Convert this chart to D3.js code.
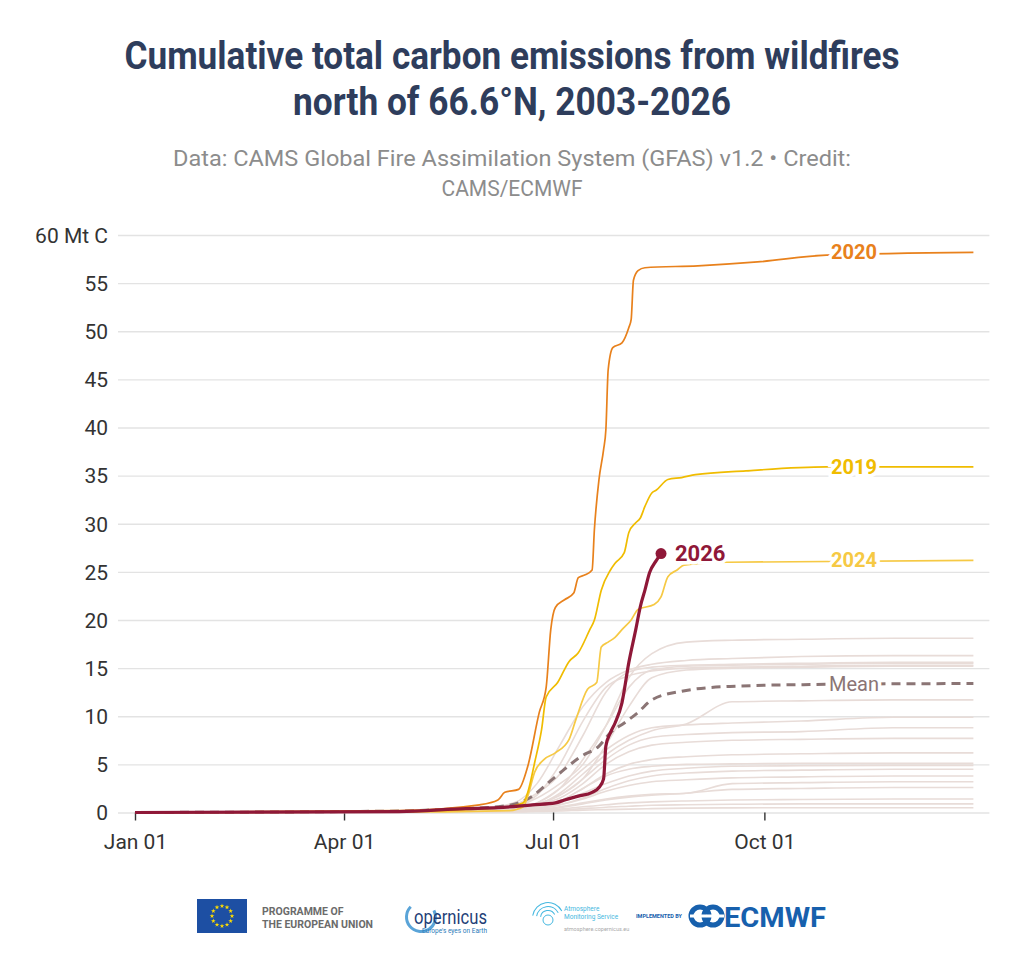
<!DOCTYPE html>
<html>
<head>
<meta charset="utf-8">
<script src="https://cdn.jsdelivr.net/npm/d3@7"></script>
<style>
  body { margin: 0; background: #fff; }
  text { font-family: Roboto, "Noto Sans", sans-serif; }
</style>
</head>
<body>
<div id="plot"></div>
<script>
// ---- data ----
// day of year (0 = Jan 01) and cumulative emissions in Mt C
const days2020 = [0, 115, 150, 158, 161, 167, 171, 176, 179, 181, 183, 187, 191, 193, 196, 199, 200, 202, 204, 205, 206, 208, 212, 215, 216, 217, 219, 222, 245, 271, 301, 365];
const vals2020 = [0, 0.2, 0.8, 1.3, 2.1, 2.4, 4.8, 10.4, 13, 19, 21.3, 22.1, 22.8, 24.4, 24.7, 25.2, 29.4, 34.6, 37.7, 39.8, 46, 48.3, 48.8, 50.4, 51.2, 55.3, 56.3, 56.6, 56.8, 57.2, 57.9, 58.2];

const days2019 = [0, 115, 144, 160, 169, 171, 174, 177, 179, 184, 189, 193, 198, 200, 203, 207, 209, 213, 215, 218, 220, 222, 225, 227, 232, 238, 244, 266, 301, 365];
const vals2019 = [0, 0.1, 0.3, 0.5, 1.0, 2.1, 5.2, 8.6, 12, 13.5, 15.7, 16.6, 19, 20, 23.1, 25.2, 25.9, 27, 29.1, 30.1, 30.6, 31.8, 33.2, 33.5, 34.6, 34.8, 35.1, 35.5, 35.9, 35.9];

const days2024 = [0, 115, 163, 169, 171, 174, 178, 183, 189, 192, 197, 201, 203, 206, 209, 212, 216, 219, 226, 229, 232, 236, 239, 258, 365];
const vals2024 = [0, 0.05, 0.2, 0.6, 1.7, 4.2, 5.5, 6.2, 7.6, 9.7, 12.8, 13.5, 17.2, 17.7, 18.2, 19, 20, 21.1, 21.6, 22.4, 24.5, 25.2, 25.7, 26.0, 26.2];

const days2026 = [0, 115, 144, 158, 173, 183, 187, 193, 199, 202, 204, 205, 207, 209, 212, 215, 218, 220, 222, 224, 227, 229];
const vals2026 = [0, 0.1, 0.4, 0.5, 0.8, 1.0, 1.3, 1.7, 2.1, 2.6, 3.5, 6.9, 8.3, 9.3, 11.4, 15.6, 19, 21.4, 23.1, 24.9, 26.2, 26.9];

const daysMean = [0, 115, 137, 158, 167, 173, 180, 187, 194, 202, 207, 213, 219, 225, 238, 259, 296, 365];
const valsMean = [0, 0.15, 0.35, 0.6, 1.0, 1.7, 3.1, 4.5, 5.8, 6.9, 8.3, 9.3, 10.4, 11.7, 12.6, 13.1, 13.3, 13.4];

// the other years, drawn in light grey
const grayYears = [2003, 2004, 2005, 2006, 2007, 2008, 2009, 2010, 2011, 2012, 2013, 2014, 2015, 2016, 2017, 2018, 2021, 2022, 2023, 2025];
const grayDays = [0, 120, 150, 165, 175, 185, 195, 205, 215, 225, 240, 260, 290, 330, 365];
const grayValues = [
  [0, 0.1, 0.3, 0.6, 1.5, 3, 5, 9, 14, 16.5, 17.7, 17.9, 18.0, 18.1, 18.1],
  [0, 0.1, 0.4, 1, 3, 7, 11, 13.5, 14.8, 15.4, 15.8, 16.0, 16.2, 16.3, 16.3],
  [0, 0.1, 0.3, 0.8, 2, 4, 8, 12.5, 14.6, 15.1, 15.3, 15.4, 15.5, 15.6, 15.6],
  [0, 0.1, 0.2, 0.5, 1, 2.5, 5.5, 9, 13, 14.8, 15.2, 15.3, 15.4, 15.5, 15.5],
  [0, 0.1, 0.3, 0.7, 1.8, 5, 9.5, 13, 14.2, 14.7, 15.0, 15.1, 15.2, 15.3, 15.3],
  [0, 0.1, 0.2, 0.4, 0.9, 1.8, 3.5, 7, 11, 14, 14.8, 15.0, 15.1, 15.2, 15.2],
  [0, 0.1, 0.2, 0.4, 0.8, 2, 4, 6, 7.5, 8.5, 9.2, 11.5, 11.6, 11.7, 11.7],
  [0, 0.1, 0.2, 0.5, 1, 2.5, 4.5, 6.5, 8, 8.8, 9.1, 9.3, 9.5, 9.9, 9.9],
  [0, 0.1, 0.2, 0.4, 0.8, 1.8, 3.5, 5.5, 7, 7.8, 8.1, 8.3, 8.4, 8.8, 8.8],
  [0, 0.1, 0.2, 0.4, 0.8, 1.5, 3, 5, 6.3, 7, 7.3, 7.5, 7.6, 7.7, 7.7],
  [0, 0.1, 0.2, 0.3, 0.6, 1.2, 2.5, 4, 5, 5.5, 5.8, 6.0, 6.1, 6.2, 6.2],
  [0, 0.05, 0.1, 0.3, 0.6, 1.2, 2.5, 3.8, 4.5, 4.8, 5.0, 5.05, 5.1, 5.1, 5.1],
  [0, 0.05, 0.1, 0.2, 0.4, 1, 2, 3, 3.8, 4.3, 4.6, 4.8, 4.85, 4.9, 4.9],
  [0, 0.05, 0.1, 0.2, 0.4, 0.8, 1.5, 2.5, 3.3, 3.8, 4.1, 4.3, 4.4, 4.5, 4.5],
  [0, 0.05, 0.1, 0.2, 0.4, 0.8, 1.4, 2.2, 2.8, 3.2, 3.4, 3.6, 3.7, 3.8, 3.8],
  [0, 0.05, 0.1, 0.15, 0.3, 0.6, 1, 1.4, 1.7, 1.9, 2.0, 3.0, 3.1, 3.2, 3.2],
  [0, 0.05, 0.1, 0.15, 0.3, 0.5, 0.9, 1.3, 1.6, 1.8, 2.0, 2.4, 2.5, 2.6, 2.6],
  [0, 0.02, 0.05, 0.1, 0.2, 0.35, 0.6, 0.8, 1.0, 1.1, 1.2, 1.3, 1.35, 1.4, 1.4],
  [0, 0.02, 0.05, 0.08, 0.15, 0.25, 0.4, 0.55, 0.65, 0.75, 0.8, 0.85, 0.9, 0.9, 0.9],
  [0, 0.01, 0.03, 0.05, 0.1, 0.15, 0.25, 0.3, 0.35, 0.4, 0.45, 0.48, 0.5, 0.5, 0.5]
];

const yTicks = [0, 5, 10, 15, 20, 25, 30, 35, 40, 45, 50, 55, 60];
const xTickDays = [0, 91, 182, 274];   // Jan 01, Apr 01, Jul 01, Oct 01 (leap-year axis)

// ---- layout ----
const W = 1024, H = 973;
const margin = {top: 235, right: 50.6, bottom: 160.5, left: 135};
const width = W - margin.left - margin.right,
      height = H - margin.top - margin.bottom;

const svg = d3.select("#plot")
  .append("svg")
  .attr("width", W)
  .attr("height", H);

// titles
const titleColor = "#2e3d5c";
svg.append("text").attr("x", 512).attr("y", 69).attr("text-anchor", "middle")
  .attr("font-size", 38).attr("font-weight", 700).attr("fill", titleColor)
  .attr("textLength", 775).attr("lengthAdjust", "spacingAndGlyphs")
  .text("Cumulative total carbon emissions from wildfires");
svg.append("text").attr("x", 512).attr("y", 115).attr("text-anchor", "middle")
  .attr("font-size", 38).attr("font-weight", 700).attr("fill", titleColor)
  .attr("textLength", 438).attr("lengthAdjust", "spacingAndGlyphs")
  .text("north of 66.6°N, 2003-2026");
svg.append("text").attr("x", 512).attr("y", 166).attr("text-anchor", "middle")
  .attr("font-size", 22).attr("fill", "#8c8c8c")
  .attr("textLength", 678).attr("lengthAdjust", "spacingAndGlyphs")
  .text("Data: CAMS Global Fire Assimilation System (GFAS) v1.2 • Credit:");
svg.append("text").attr("x", 512).attr("y", 196).attr("text-anchor", "middle")
  .attr("font-size", 22).attr("fill", "#8c8c8c")
  .attr("textLength", 141).attr("lengthAdjust", "spacingAndGlyphs")
  .text("CAMS/ECMWF");

const g = svg.append("g")
  .attr("transform", "translate(" + margin.left + "," + margin.top + ")");

// scales
const jan1 = new Date(Date.UTC(2020, 0, 1));
const toDate = d => d3.utcDay.offset(jan1, d);

const x = d3.scaleUtc()
  .domain([jan1, toDate(365)])
  .range([0, width]);
const y = d3.scaleLinear()
  .domain([0, 60])
  .range([height, 0]);

// y grid + labels (grid runs a bit past the data on both sides)
const yAxis = g.append("g")
  .attr("transform", "translate(-17,0)")
  .call(d3.axisLeft(y).tickValues(yTicks).tickSize(-(width + 33)).tickPadding(10)
    .tickFormat(d => d === 60 ? "60 Mt C" : d));
yAxis.select(".domain").remove();
yAxis.selectAll(".tick line").attr("stroke", "#e3e3e3").attr("stroke-width", 1.3);
yAxis.selectAll(".tick text")
  .attr("dy", "0.35em")
  .attr("font-size", 21).attr("fill", "#333")
  .attr("font-family", "Roboto, sans-serif");

// x axis ticks + labels
const xAxis = g.append("g")
  .attr("transform", "translate(0," + height + ")")
  .call(d3.axisBottom(x).tickValues(xTickDays.map(toDate)).tickSize(8).tickPadding(14)
    .tickFormat(d3.utcFormat("%b %d")));
xAxis.select(".domain").remove();
xAxis.selectAll(".tick line").attr("stroke", "#333").attr("stroke-width", 1.4);
xAxis.selectAll(".tick text").attr("font-size", 21).attr("fill", "#333")
  .attr("font-family", "Roboto, sans-serif");

// lines
const line = d3.line()
  .x(d => x(d.date))
  .y(d => y(d.value))
  .curve(d3.curveMonotoneX);

function toPoints(days, vals) {
  return days.map((d, i) => ({date: toDate(d), value: vals[i]}));
}

g.append("g")
  .selectAll("path")
  .data(grayYears.map((yr, i) => ({year: yr, pts: toPoints(grayDays, grayValues[i])})))
  .enter()
  .append("path")
  .attr("fill", "none")
  .attr("stroke", "#e8dcd8")
  .attr("stroke-width", 1.6)
  .attr("d", d => line(d.pts));

const meanPts = toPoints(daysMean, valsMean);
g.append("path").datum(meanPts)
  .attr("fill", "none").attr("stroke", "#8b7575").attr("stroke-width", 3)
  .attr("stroke-dasharray", "9,6")
  .attr("d", line);

const highlights = [
  {year: 2024, days: days2024, vals: vals2024, color: "#f6c944", w: 1.7},
  {year: 2019, days: days2019, vals: vals2019, color: "#f0bc00", w: 1.7},
  {year: 2020, days: days2020, vals: vals2020, color: "#e8811c", w: 1.7},
  {year: 2026, days: days2026, vals: vals2026, color: "#8f1838", w: 3.2}
];
highlights.forEach(h => { h.pts = toPoints(h.days, h.vals); });

g.append("g")
  .selectAll("path")
  .data(highlights)
  .enter()
  .append("path")
  .attr("fill", "none")
  .attr("stroke", d => d.color)
  .attr("stroke-width", d => d.w)
  .attr("stroke-linejoin", "round")
  .attr("d", d => line(d.pts));

// end dot for the running year
const h26 = highlights[3];
const last26 = h26.pts[h26.pts.length - 1];
g.append("circle")
  .attr("cx", x(last26.date)).attr("cy", y(last26.value)).attr("r", 5.5)
  .attr("fill", h26.color);

// labels (white halo breaks the lines behind them)
const labelDate = toDate(313);
function addLabel(txt, xp, yp, color, size, weight, anchor) {
  g.append("text")
    .attr("x", xp).attr("y", yp).attr("dy", "0.35em")
    .attr("text-anchor", anchor)
    .attr("font-size", size).attr("font-weight", weight)
    .attr("fill", color)
    .attr("stroke", "#fff").attr("stroke-width", 7)
    .attr("paint-order", "stroke")
    .text(txt);
}
highlights.slice(0, 3).forEach(h => {
  addLabel(h.year, x(labelDate), y(h.vals[h.vals.length - 1]), h.color, 20, 700, "middle");
});
addLabel("2026", x(last26.date) + 14, y(last26.value), h26.color, 22, 700, "start");
addLabel("Mean", x(labelDate), y(valsMean[valsMean.length - 1]), "#8b7575", 20, 400, "middle");

// ---- logo strip ----
const logos = svg.append("g");
// EU flag
logos.append("rect").attr("x", 197).attr("y", 899).attr("width", 50).attr("height", 34)
  .attr("fill", "#1d4fa3");
const star = d3.symbol().type(d3.symbolStar).size(7);
d3.range(12).forEach(i => {
  const a = i / 12 * 2 * Math.PI;
  logos.append("path").attr("d", star)
    .attr("transform", "translate(" + (222 + 10 * Math.cos(a)) + "," + (916 + 10 * Math.sin(a)) + ")")
    .attr("fill", "#ffdd00");
});
logos.append("text").attr("x", 262).attr("y", 915).attr("font-size", 10.5).attr("font-weight", 700)
  .attr("fill", "#6b6b6b").text("PROGRAMME OF");
logos.append("text").attr("x", 262).attr("y", 928).attr("font-size", 10.5).attr("font-weight", 700)
  .attr("fill", "#6b6b6b").text("THE EUROPEAN UNION");

// Copernicus
logos.append("path")
  .attr("d", d3.arc().innerRadius(13).outerRadius(16).startAngle(0.35 * Math.PI).endAngle(1.75 * Math.PI)())
  .attr("transform", "translate(421,917)")
  .attr("fill", "#5aa4d8");
logos.append("text").attr("x", 414).attr("y", 924).attr("font-size", 21)
  .attr("fill", "#1f3f78").attr("textLength", 73).attr("lengthAdjust", "spacingAndGlyphs")
  .text("opernicus");
logos.append("text").attr("x", 487).attr("y", 933).attr("font-size", 6.5).attr("text-anchor", "end")
  .attr("fill", "#2a7ab8").text("Europe's eyes on Earth");

// Atmosphere Monitoring Service
[8, 12, 16].forEach(r => {
  logos.append("path")
    .attr("d", d3.arc().innerRadius(r - 1).outerRadius(r).startAngle(-0.45 * Math.PI).endAngle(0.35 * Math.PI)())
    .attr("transform", "translate(548,918)")
    .attr("fill", "#45b8e0");
});
logos.append("circle").attr("cx", 548).attr("cy", 920).attr("r", 5)
  .attr("fill", "none").attr("stroke", "#45b8e0").attr("stroke-width", 1);
logos.append("text").attr("x", 564).attr("y", 911).attr("font-size", 6.5).attr("fill", "#45b8e0").text("Atmosphere");
logos.append("text").attr("x", 564).attr("y", 919).attr("font-size", 6.5).attr("fill", "#45b8e0").text("Monitoring Service");
logos.append("text").attr("x", 564).attr("y", 931).attr("font-size", 5.5).attr("fill", "#aaa").text("atmosphere.copernicus.eu");

// ECMWF
logos.append("text").attr("x", 636).attr("y", 918).attr("font-size", 5.5).attr("font-weight", 700)
  .attr("fill", "#1760ad").text("IMPLEMENTED BY");
[700, 713].forEach(cx => {
  logos.append("circle").attr("cx", cx).attr("cy", 916).attr("r", 9)
    .attr("fill", "none").attr("stroke", "#1760ad").attr("stroke-width", 5);
});
logos.append("rect").attr("x", 690).attr("y", 914.5).attr("width", 34).attr("height", 3).attr("fill", "#fff");
logos.append("text").attr("x", 724).attr("y", 927).attr("font-size", 28).attr("font-weight", 700)
  .attr("fill", "#1760ad").attr("textLength", 102).attr("lengthAdjust", "spacingAndGlyphs")
  .text("ECMWF");
</script>
</body>
</html>
